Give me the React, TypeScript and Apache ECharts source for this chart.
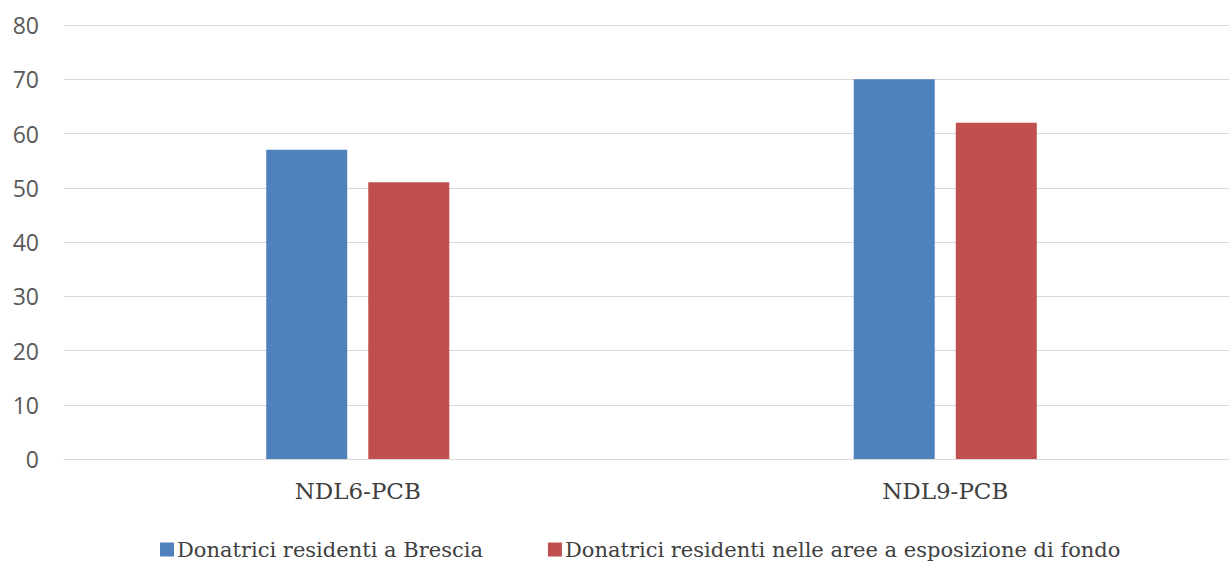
import React, { useEffect, useRef } from "react";
import * as echarts from "echarts";

const categories = ["NDL6-PCB", "NDL9-PCB"];
const seriesNames = [
  "Donatrici residenti a Brescia",
  "Donatrici residenti nelle aree a esposizione di fondo",
];
const brescia = [57, 70];
const fondo = [51, 62];
const yTicks = { min: 0, max: 80, interval: 10 };

const SERIF = "DejaVu Serif";

export default function App() {
  const ref = useRef<HTMLDivElement>(null);
  useEffect(() => {
    if (!ref.current) return;
    const chart = echarts.init(ref.current, null, { renderer: "svg" });
    chart.setOption({
      animation: false,
      backgroundColor: "#ffffff",
      grid: { left: 64, right: 0, top: 25, bottom: 103, containLabel: false },
      legend: {
        left: 155,
        top: 534,
        icon: "rect",
        itemWidth: 14,
        itemHeight: 14,
        itemGap: 65,
        textStyle: {
          fontFamily: SERIF,
          fontSize: 21,
          color: "#404040",
          padding: [0, 0, 0, -2],
        },
        data: seriesNames,
      },
      xAxis: {
        type: "category",
        data: categories,
        axisLine: { lineStyle: { color: "#d9d9d9" } },
        axisTick: { show: false },
        axisLabel: {
          fontFamily: SERIF,
          fontSize: 23,
          color: "#404040",
          margin: 20,
        },
      },
      yAxis: {
        type: "value",
        min: yTicks.min,
        max: yTicks.max,
        interval: yTicks.interval,
        axisLine: { show: false },
        axisTick: { show: false },
        splitLine: { lineStyle: { color: "#d9d9d9" } },
        axisLabel: {
          fontFamily: "Open Sans",
          fontSize: 23,
          color: "#595959",
          margin: 25,
        },
      },
      series: [
        {
          name: seriesNames[0],
          type: "bar",
          data: brescia,
          barWidth: 81,
          barGap: "26%",
          itemStyle: { color: "#4f81bd" },
        },
        {
          name: seriesNames[1],
          type: "bar",
          data: fondo,
          barWidth: 81,
          itemStyle: { color: "#c0504d" },
        },
      ],
    });
    return () => chart.dispose();
  }, []);
  return (
    <div
      style={{
        position: "fixed",
        left: 0,
        top: 0,
        width: 1229,
        height: 562,
        overflow: "hidden",
        background: "#fff",
      }}
    >
      <div ref={ref} style={{ width: 1239, height: 562 }} />
    </div>
  );
}
